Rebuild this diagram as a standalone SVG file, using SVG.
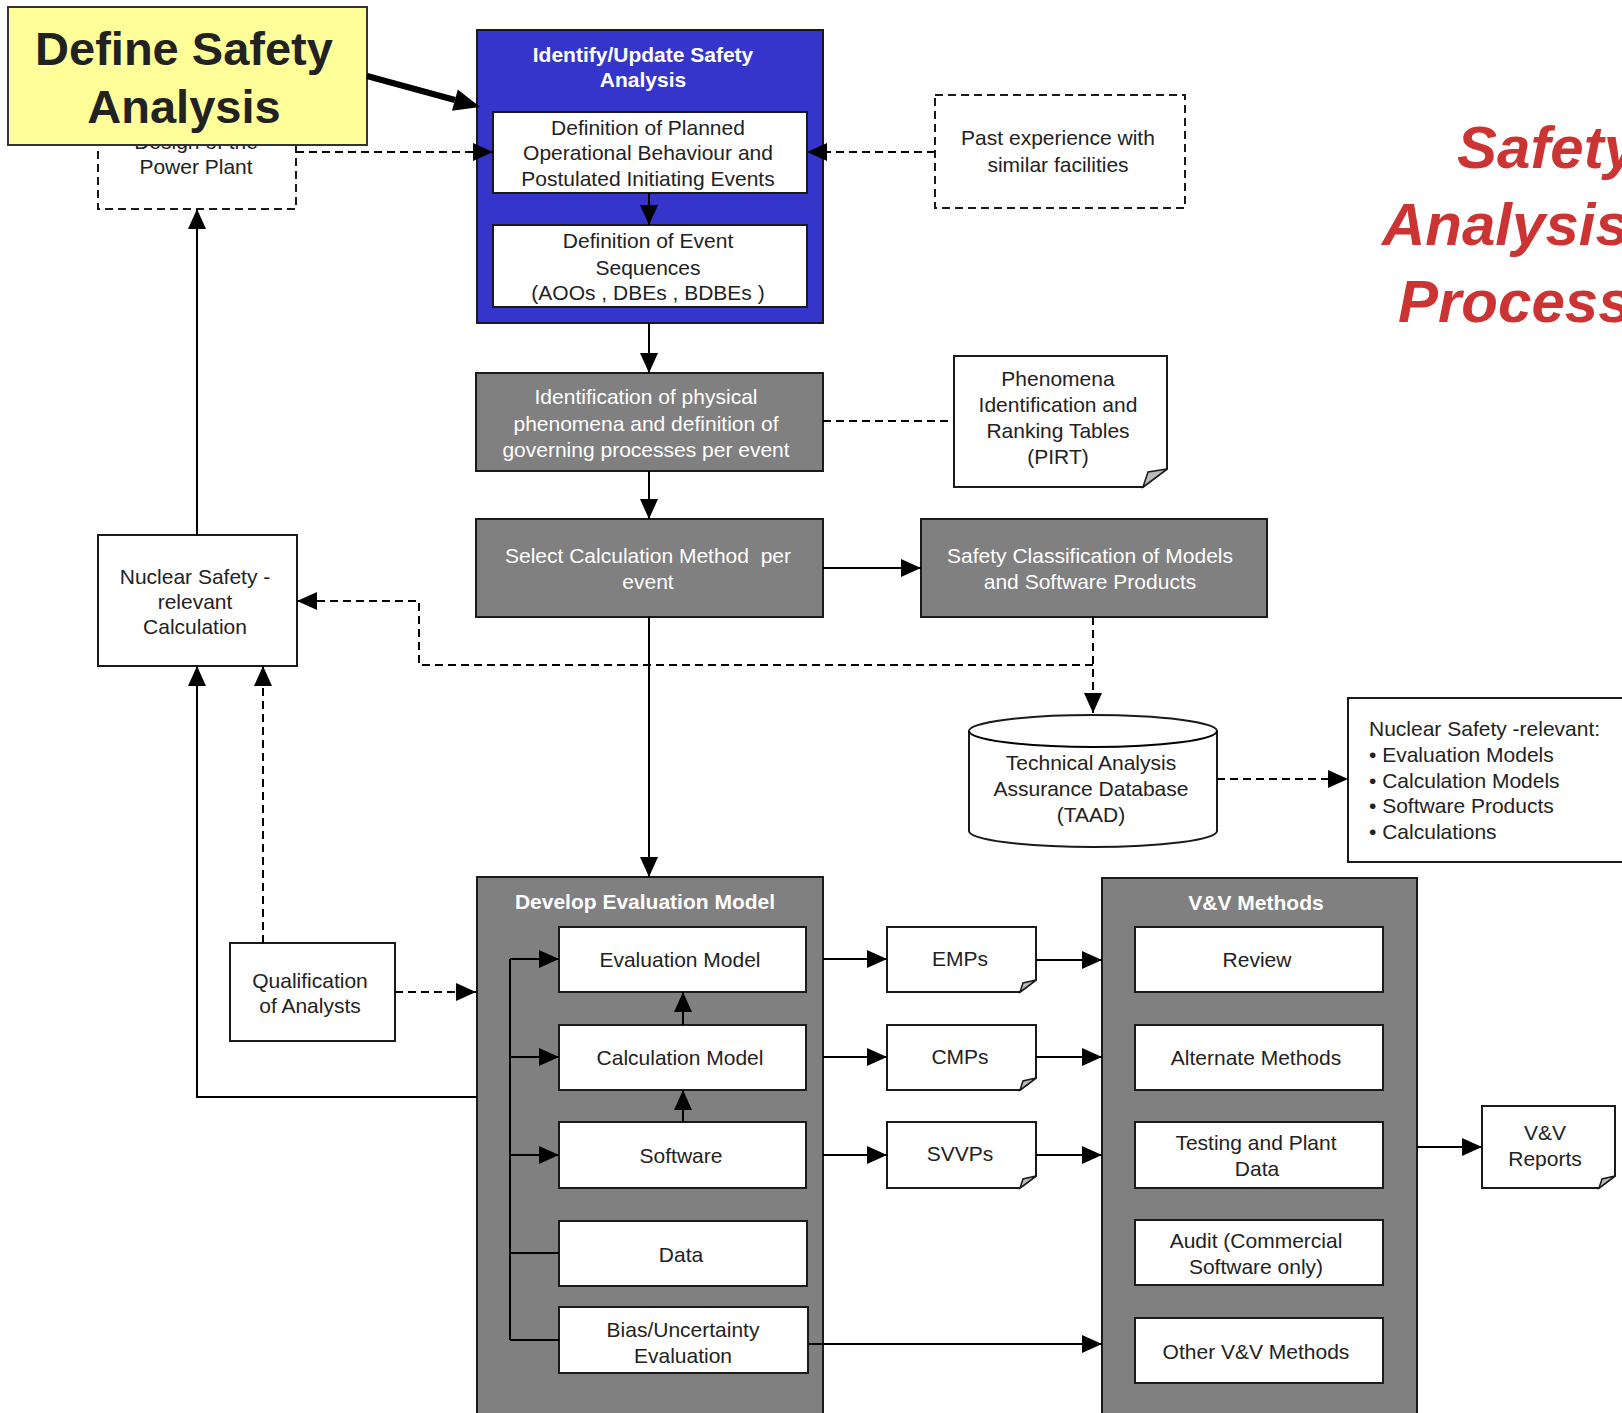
<svg xmlns="http://www.w3.org/2000/svg" width="1622" height="1413" viewBox="0 0 1622 1413">
<defs>
<marker id="ah" markerUnits="userSpaceOnUse" markerWidth="20" markerHeight="18" viewBox="0 0 20 18" refX="20" refY="9" orient="auto">
<path d="M0,0 L20,9 L0,18 Z" fill="#000"/>
</marker>
</defs>
<style>
text{font-family:"Liberation Sans",Arial,sans-serif;font-size:21px;fill:#222;text-anchor:middle}
.w{fill:#fff}
.b{font-weight:bold}
.box{fill:#fff;stroke:#1a1a1a;stroke-width:2}
.gray{fill:#808080;stroke:#1a1a1a;stroke-width:2}
.dbox{fill:#fff;stroke:#1a1a1a;stroke-width:2;stroke-dasharray:8,5}
.ln{fill:none;stroke:#000;stroke-width:2}
.arr{fill:none;stroke:#000;stroke-width:2;marker-end:url(#ah)}
.dl{fill:none;stroke:#000;stroke-width:2;stroke-dasharray:8,5}
.da{fill:none;stroke:#000;stroke-width:2;stroke-dasharray:8,5;marker-end:url(#ah)}
.fold{fill:#bbb;stroke:#1a1a1a;stroke-width:1.5}
.title{font-size:60px;font-weight:bold;font-style:italic;fill:#CC3333;text-anchor:start}
</style>
<rect width="1622" height="1413" fill="#fff"/>

<g id="design-plant">
<rect class="dbox" x="98" y="96" width="198" height="113"/>
<text x="196" y="149">Design of the</text>
<text x="196" y="174">Power Plant</text>
</g>

<g id="define-safety">
<rect x="8" y="7" width="359" height="138" fill="#FFFF99" stroke="#333" stroke-width="2"/>
<text x="184" y="65" class="b" style="font-size:47px">Define Safety</text>
<text x="184" y="123" class="b" style="font-size:47px">Analysis</text>
</g>

<g id="title">
<text class="title" x="1457" y="168">Safety</text>
<text class="title" x="1382" y="245">Analysis</text>
<text class="title" x="1398" y="322">Process</text>
</g>

<g id="identify">
<rect x="477" y="30" width="346" height="293" fill="#3535CC" stroke="#1a1a1a" stroke-width="2"/>
<text x="643" y="62" class="w b">Identify/Update Safety</text>
<text x="643" y="87" class="w b">Analysis</text>
</g>
<g id="def-planned">
<rect class="box" x="493" y="112" width="314" height="81"/>
<text x="648" y="135">Definition of Planned</text>
<text x="648" y="160">Operational Behaviour and</text>
<text x="648" y="186">Postulated Initiating Events</text>
</g>
<g id="def-events">
<rect class="box" x="493" y="225" width="314" height="82"/>
<text x="648" y="248">Definition of Event</text>
<text x="648" y="275">Sequences</text>
<text x="648" y="300">(AOOs , DBEs , BDBEs )</text>
</g>

<g id="past-exp">
<rect class="dbox" x="935" y="95" width="250" height="113"/>
<text x="1058" y="145">Past experience with</text>
<text x="1058" y="172">similar facilities</text>
</g>

<g id="identification">
<rect class="gray" x="476" y="373" width="347" height="98"/>
<text x="646" y="404" class="w">Identification of physical</text>
<text x="646" y="431" class="w">phenomena and definition of</text>
<text x="646" y="457" class="w">governing processes per event</text>
</g>

<g id="pirt">
<path class="box" d="M954,356 H1167 V469 L1143,487 H954 Z"/>
<path class="fold" d="M1143,487 L1148,472 L1167,469 Z"/>
<text x="1058" y="386">Phenomena</text>
<text x="1058" y="412">Identification and</text>
<text x="1058" y="438">Ranking Tables</text>
<text x="1058" y="464">(PIRT)</text>
</g>

<g id="select-method">
<rect class="gray" x="476" y="519" width="347" height="98"/>
<text x="648" y="563" class="w" style="white-space:pre">Select Calculation Method  per</text>
<text x="648" y="589" class="w">event</text>
</g>

<g id="safety-class">
<rect class="gray" x="921" y="519" width="346" height="98"/>
<text x="1090" y="563" class="w">Safety Classification of Models</text>
<text x="1090" y="589" class="w">and Software Products</text>
</g>

<g id="taad">
<path class="box" d="M969,731 A124,16 0 0,1 1217,731 V831 A124,16 0 0,1 969,831 Z"/>
<path class="ln" d="M969,731 A124,16 0 0,0 1217,731"/>
<text x="1091" y="770">Technical Analysis</text>
<text x="1091" y="796">Assurance Database</text>
<text x="1091" y="822">(TAAD)</text>
</g>

<g id="ns-list">
<rect class="box" x="1348" y="698" width="290" height="164"/>
<text x="1369" y="736" style="text-anchor:start">Nuclear Safety -relevant:</text>
<text x="1369" y="762" style="text-anchor:start">• Evaluation Models</text>
<text x="1369" y="788" style="text-anchor:start">• Calculation Models</text>
<text x="1369" y="813" style="text-anchor:start">• Software Products</text>
<text x="1369" y="839" style="text-anchor:start">• Calculations</text>
</g>

<g id="ns-calc">
<rect class="box" x="98" y="535" width="199" height="131"/>
<text x="195" y="584">Nuclear Safety -</text>
<text x="195" y="609">relevant</text>
<text x="195" y="634">Calculation</text>
</g>

<g id="qualification">
<rect class="box" x="230" y="943" width="165" height="98"/>
<text x="310" y="988">Qualification</text>
<text x="310" y="1013">of Analysts</text>
</g>

<g id="develop-em">
<rect class="gray" x="477" y="877" width="346" height="560"/>
<text x="645" y="909" class="w b">Develop Evaluation Model</text>
</g>
<g id="eval-model">
<rect class="box" x="559" y="927" width="247" height="65"/>
<text x="680" y="967">Evaluation Model</text>
</g>
<g id="calc-model">
<rect class="box" x="559" y="1025" width="247" height="65"/>
<text x="680" y="1065">Calculation Model</text>
</g>
<g id="software">
<rect class="box" x="559" y="1122" width="247" height="66"/>
<text x="681" y="1163">Software</text>
</g>
<g id="data">
<rect class="box" x="559" y="1221" width="248" height="65"/>
<text x="681" y="1262">Data</text>
</g>
<g id="bias">
<rect class="box" x="559" y="1307" width="249" height="66"/>
<text x="683" y="1337">Bias/Uncertainty</text>
<text x="683" y="1363">Evaluation</text>
</g>

<g id="emps">
<path class="box" d="M887,927 H1036 V980 L1020,992 H887 Z"/>
<path class="fold" d="M1020,992 L1023,983 L1036,980 Z"/>
<text x="960" y="966">EMPs</text>
</g>
<g id="cmps">
<path class="box" d="M887,1025 H1036 V1078 L1020,1090 H887 Z"/>
<path class="fold" d="M1020,1090 L1023,1081 L1036,1078 Z"/>
<text x="960" y="1064">CMPs</text>
</g>
<g id="svvps">
<path class="box" d="M887,1122 H1036 V1176 L1020,1188 H887 Z"/>
<path class="fold" d="M1020,1188 L1023,1179 L1036,1176 Z"/>
<text x="960" y="1161">SVVPs</text>
</g>

<g id="vv-methods">
<rect class="gray" x="1102" y="878" width="315" height="560"/>
<text x="1256" y="910" class="w b">V&amp;V Methods</text>
</g>
<g id="review">
<rect class="box" x="1135" y="927" width="248" height="65"/>
<text x="1257" y="967">Review</text>
</g>
<g id="alternate">
<rect class="box" x="1135" y="1025" width="248" height="65"/>
<text x="1256" y="1065">Alternate Methods</text>
</g>
<g id="testing">
<rect class="box" x="1135" y="1122" width="248" height="66"/>
<text x="1256" y="1150">Testing and Plant</text>
<text x="1257" y="1176">Data</text>
</g>
<g id="audit">
<rect class="box" x="1135" y="1220" width="248" height="65"/>
<text x="1256" y="1248">Audit (Commercial</text>
<text x="1256" y="1274">Software only)</text>
</g>
<g id="other-vv">
<rect class="box" x="1135" y="1318" width="248" height="65"/>
<text x="1256" y="1359">Other V&amp;V Methods</text>
</g>

<g id="vv-reports">
<path class="box" d="M1482,1106 H1615 V1176 L1599,1188 H1482 Z"/>
<path class="fold" d="M1599,1188 L1602,1179 L1615,1176 Z"/>
<text x="1545" y="1140">V&amp;V</text>
<text x="1545" y="1166">Reports</text>
</g>

<g id="connectors">
<line x1="367" y1="76" x2="455" y2="100" stroke="#000" stroke-width="6"/>
<polygon points="480,107 457.8,89.5 452,110.7" fill="#000"/>
<path class="da" d="M296,152 H493"/>
<path class="da" d="M935,152 H807"/>
<path class="arr" d="M649,193 V225"/>
<path class="arr" d="M649,323 V373"/>
<path class="dl" d="M823,421 H954"/>
<path class="arr" d="M649,471 V519"/>
<path class="arr" d="M823,568 H921"/>
<path class="da" d="M1093,617 V713"/>
<path class="da" d="M1093,665 H419 V601 H297"/>
<path class="da" d="M1217,779 H1348"/>
<path class="arr" d="M197,535 V209"/>
<path class="arr" d="M477,1097 H197 V666"/>
<path class="da" d="M263,943 V666"/>
<path class="da" d="M395,992 H476"/>
<path class="arr" d="M649,617 V877"/>
<path class="arr" d="M683,1025 V992"/>
<path class="arr" d="M683,1122 V1090"/>
<path class="ln" d="M510,959 V1340"/>
<path class="arr" d="M510,959 H559"/>
<path class="arr" d="M510,1057 H559"/>
<path class="arr" d="M510,1155 H559"/>
<path class="ln" d="M510,1253 H559"/>
<path class="ln" d="M510,1340 H559"/>
<path class="arr" d="M823,959 H887"/>
<path class="arr" d="M823,1057 H887"/>
<path class="arr" d="M823,1155 H887"/>
<path class="arr" d="M1036,960 H1102"/>
<path class="arr" d="M1036,1057 H1102"/>
<path class="arr" d="M1036,1155 H1102"/>
<path class="arr" d="M808,1344 H1102"/>
<path class="arr" d="M1417,1147 H1482"/>
</g>
</svg>
